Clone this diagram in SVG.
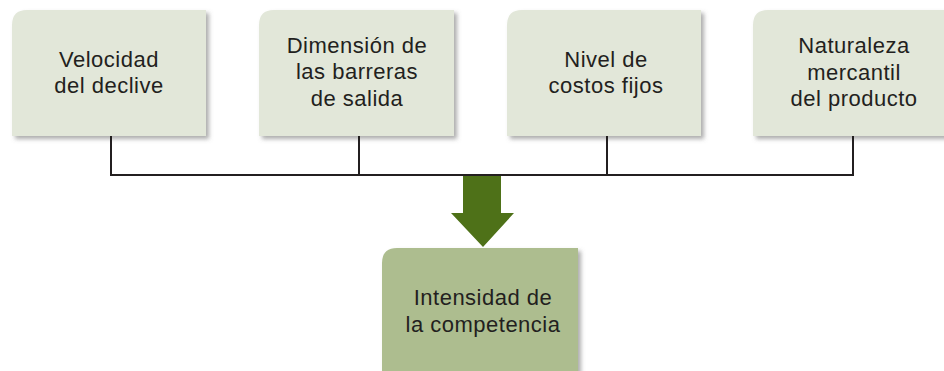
<svg xmlns="http://www.w3.org/2000/svg" width="944" height="371" viewBox="0 0 944 371">
<defs>
<filter id="sh" x="-10%" y="-10%" width="130%" height="130%">
<feDropShadow dx="3" dy="3" stdDeviation="2" flood-color="#6b6b6b" flood-opacity="0.55"/>
</filter>
<style>
.box{fill:#e2e7d9;filter:url(#sh)}
.out{fill:#adbd8f;filter:url(#sh)}
.t{font-family:"Liberation Sans",Arial,sans-serif;font-size:22px;fill:#231f20;text-anchor:middle;letter-spacing:0.5px}
.ln{stroke:#231f20;stroke-width:2;fill:none}
</style>
</defs>
<rect width="944" height="371" fill="#ffffff"/>
<g id="node-velocidad">
<path class="box" d="M12,25 Q12,10 27,10 H206 V136 H12 Z"/>
<text class="t" x="109" y="67">Velocidad</text>
<text class="t" x="109" y="93">del declive</text>
</g>
<g id="node-dimension">
<path class="box" d="M259,25 Q259,10 274,10 H454 V136 H259 Z"/>
<text class="t" x="357" y="53">Dimensión de</text>
<text class="t" x="357" y="79">las barreras</text>
<text class="t" x="357" y="106">de salida</text>
</g>
<g id="node-nivel">
<path class="box" d="M507,25 Q507,10 522,10 H701 V136 H507 Z"/>
<text class="t" x="606" y="67">Nivel de</text>
<text class="t" x="606" y="93">costos fijos</text>
</g>
<g id="node-naturaleza">
<path class="box" d="M753,25 Q753,10 768,10 H950 V136 H753 Z"/>
<text class="t" x="854" y="53">Naturaleza</text>
<text class="t" x="854" y="80">mercantil</text>
<text class="t" x="854" y="106">del producto</text>
</g>
<g id="connectors">
<path class="ln" d="M111,136 V175 M359,136 V175 M607,136 V175 M853,136 V175 M110,175 H854"/>
<polygon points="463,176 501,176 501,213 514,213 483,247 451,213 463,213" fill="#4e7118"/>
</g>
<g id="node-intensidad">
<path class="out" d="M382,263 Q382,248 397,248 H578 V380 H382 Z"/>
<text class="t" x="483" y="305">Intensidad de</text>
<text class="t" x="483" y="332">la competencia</text>
</g>
</svg>
